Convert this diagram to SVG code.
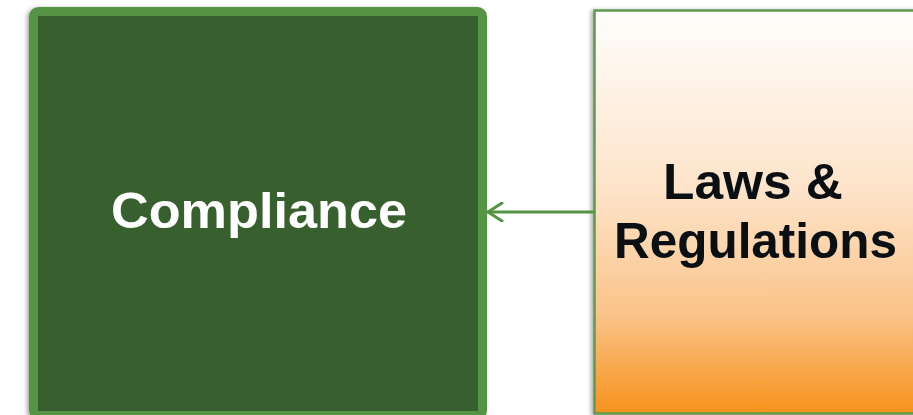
<svg xmlns="http://www.w3.org/2000/svg" width="913" height="415" viewBox="0 0 913 415">
  <style>
    .label { font-family: "Liberation Sans", Arial, sans-serif; font-weight: bold; font-size: 50px; text-anchor: middle; }
    .light { fill: #ffffff; }
    .dark { fill: #0a0f14; }
    .conn { fill: none; stroke: #559344; stroke-width: 3; stroke-linecap: round; stroke-linejoin: round; }
  </style>
  <defs>
    <linearGradient id="orangeFade" x1="0" y1="0" x2="0" y2="1">
      <stop offset="0" stop-color="#fffefd"/>
      <stop offset="0.45" stop-color="#fde3c8"/>
      <stop offset="0.75" stop-color="#fac48a"/>
      <stop offset="1" stop-color="#f7921c"/>
    </linearGradient>
    <filter id="shadow" x="-5%" y="-5%" width="110%" height="110%">
      <feDropShadow dx="-2" dy="1" stdDeviation="2" flood-color="#000000" flood-opacity="0.35"/>
    </filter>
    <!-- open chevron head, tip at the line end -->
    <marker id="chevron" viewBox="0 0 20 20" refX="17" refY="10" markerWidth="20" markerHeight="20" markerUnits="userSpaceOnUse" orient="auto">
      <path d="M3,1 L17,10 L3,19" fill="none" stroke="#559344" stroke-width="3" stroke-linecap="round" stroke-linejoin="round"/>
    </marker>
  </defs>

  <rect width="913" height="415" fill="#ffffff"/>

  <g id="compliance">
    <rect x="33.5" y="11.5" width="449" height="404" rx="5" fill="#375f2e" stroke="#559344" stroke-width="9" filter="url(#shadow)"/>
    <text class="label light" x="259" y="228" textLength="296" lengthAdjust="spacingAndGlyphs">Compliance</text>
  </g>

  <g id="laws-regulations">
    <rect x="594.5" y="10.5" width="322" height="403" fill="url(#orangeFade)" stroke="#5d9b4e" stroke-width="2.5" filter="url(#shadow)"/>
    <text class="label dark" x="753" y="199" textLength="180" lengthAdjust="spacingAndGlyphs">Laws &amp;</text>
    <text class="label dark" x="755.5" y="258" textLength="283" lengthAdjust="spacingAndGlyphs">Regulations</text>
  </g>

  <!-- connector: regulations feed into compliance -->
  <g id="connectors">
    <line class="conn" x1="593" y1="212" x2="488" y2="212" marker-end="url(#chevron)"/>
  </g>
</svg>
